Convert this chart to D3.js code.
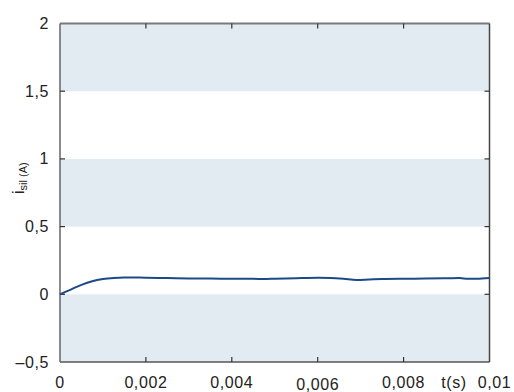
<!DOCTYPE html>
<html>
<head>
<meta charset="utf-8">
<script src="https://cdn.jsdelivr.net/npm/d3@7"></script>
<style>
  html, body { margin: 0; padding: 0; background: #fff; }
  svg { display: block; }
  text { font-family: "Liberation Sans", Arial, sans-serif; fill: #222; }
</style>
</head>
<body>
<svg id="chart" width="514" height="392"></svg>
<script>
// Current i_sil (A) versus time t (s)
const timeS = [0, 0.00025, 0.0005, 0.00075, 0.001, 0.00125, 0.0015, 0.002, 0.0025, 0.003,
  0.0035, 0.004, 0.0045, 0.0048, 0.005, 0.0055, 0.006, 0.0063, 0.0066, 0.0069,
  0.0072, 0.0075, 0.008, 0.0085, 0.009, 0.0093, 0.0095, 0.0097, 0.01];
const currentA = [0, 0.035, 0.07, 0.097, 0.113, 0.121, 0.124, 0.123, 0.12, 0.117,
  0.116, 0.115, 0.114, 0.113, 0.115, 0.119, 0.122, 0.121, 0.115, 0.105,
  0.109, 0.113, 0.115, 0.116, 0.118, 0.12, 0.114, 0.114, 0.12];

const xTicks = [0, 0.002, 0.004, 0.006, 0.008, 0.01];
const xTickLabels = ["0", "0,002", "0,004", "0,006", "0,008", "0,01"];
const yTicks = [-0.5, 0, 0.5, 1, 1.5, 2];
const yTickLabels = ["\u20130,5", "0", "0,5", "1", "1,5", "2"];
// shaded horizontal bands [from, to]
const bandLow = [-0.5, 0.5, 1.5];
const bandHigh = [0, 1, 2];

const svg = d3.select("#chart");
const margin = { left: 60, right: 24.5, top: 23.5, bottom: 30 };
const W = 514, H = 392;

const x = d3.scaleLinear().domain([0, 0.01]).range([margin.left, W - margin.right]);
const y = d3.scaleLinear().domain([-0.5, 2]).range([H - margin.bottom, margin.top]);

// bands
svg.append("g").selectAll("rect")
  .data(bandLow.map((lo, i) => [lo, bandHigh[i]]))
  .join("rect")
  .attr("x", x(0))
  .attr("width", x(0.01) - x(0))
  .attr("y", d => y(d[1]))
  .attr("height", d => y(d[0]) - y(d[1]))
  .attr("fill", "#e3ebf2");

// frame
const frame = svg.append("g").attr("fill", "none");
frame.append("line").attr("x1", x(0)).attr("x2", x(0.01)).attr("y1", y(2)).attr("y2", y(2))
  .attr("stroke", "#7a7a7a").attr("stroke-width", 2);
frame.append("line").attr("x1", x(0)).attr("x2", x(0.01)).attr("y1", y(-0.5)).attr("y2", y(-0.5))
  .attr("stroke", "#555").attr("stroke-width", 1.5);
frame.append("line").attr("x1", x(0)).attr("x2", x(0)).attr("y1", y(2)).attr("y2", y(-0.5))
  .attr("stroke", "#666").attr("stroke-width", 1.5);
frame.append("line").attr("x1", x(0.01)).attr("x2", x(0.01)).attr("y1", y(2)).attr("y2", y(-0.5))
  .attr("stroke", "#444").attr("stroke-width", 1.5);

// inward ticks on all four sides
const tickLen = 5;
const tickG = svg.append("g").attr("stroke", "#333").attr("stroke-width", 1.2);
xTicks.slice(1, -1).forEach(t => {
  tickG.append("line").attr("x1", x(t)).attr("x2", x(t)).attr("y1", y(-0.5)).attr("y2", y(-0.5) - tickLen);
  tickG.append("line").attr("x1", x(t)).attr("x2", x(t)).attr("y1", y(2)).attr("y2", y(2) + tickLen);
});
yTicks.slice(1, -1).forEach(v => {
  tickG.append("line").attr("x1", x(0)).attr("x2", x(0) + tickLen).attr("y1", y(v)).attr("y2", y(v));
  tickG.append("line").attr("x1", x(0.01)).attr("x2", x(0.01) - tickLen).attr("y1", y(v)).attr("y2", y(v));
});

const labelStyle = sel => sel.attr("font-size", 16).attr("letter-spacing", 0.6);

// y tick labels
svg.append("g").selectAll("text")
  .data(yTicks)
  .join("text")
  .attr("x", 49)
  .attr("y", d => y(d) + 5.5)
  .attr("text-anchor", "end")
  .call(labelStyle)
  .text((d, i) => yTickLabels[i]);

// x tick labels
const xLabelDy = [0, 0, 0, 1.5, 0, 0];
svg.append("g").selectAll("text")
  .data(xTicks)
  .join("text")
  .attr("x", (d, i) => i === xTicks.length - 1 ? x(d) + 5 : x(d))
  .attr("y", (d, i) => 388 + xLabelDy[i])
  .attr("text-anchor", "middle")
  .call(labelStyle)
  .text((d, i) => xTickLabels[i]);

// axis titles
svg.append("text")
  .attr("x", 454).attr("y", 388)
  .attr("text-anchor", "middle")
  .call(labelStyle)
  .text("t(s)");

const yTitle = svg.append("text")
  .attr("transform", "translate(24,194) rotate(-90)")
  .attr("text-anchor", "start")
  .attr("font-size", 16);
yTitle.append("tspan").text("i");
yTitle.append("tspan").attr("font-size", 11).attr("dy", 3).text("sil (A)");

// current trace
const line = d3.line()
  .x((d, i) => x(timeS[i]))
  .y(d => y(d))
  .curve(d3.curveMonotoneX);

svg.append("path")
  .datum(currentA)
  .attr("fill", "none")
  .attr("stroke", "#1d4a87")
  .attr("stroke-width", 2)
  .attr("d", line);
</script>
</body>
</html>
